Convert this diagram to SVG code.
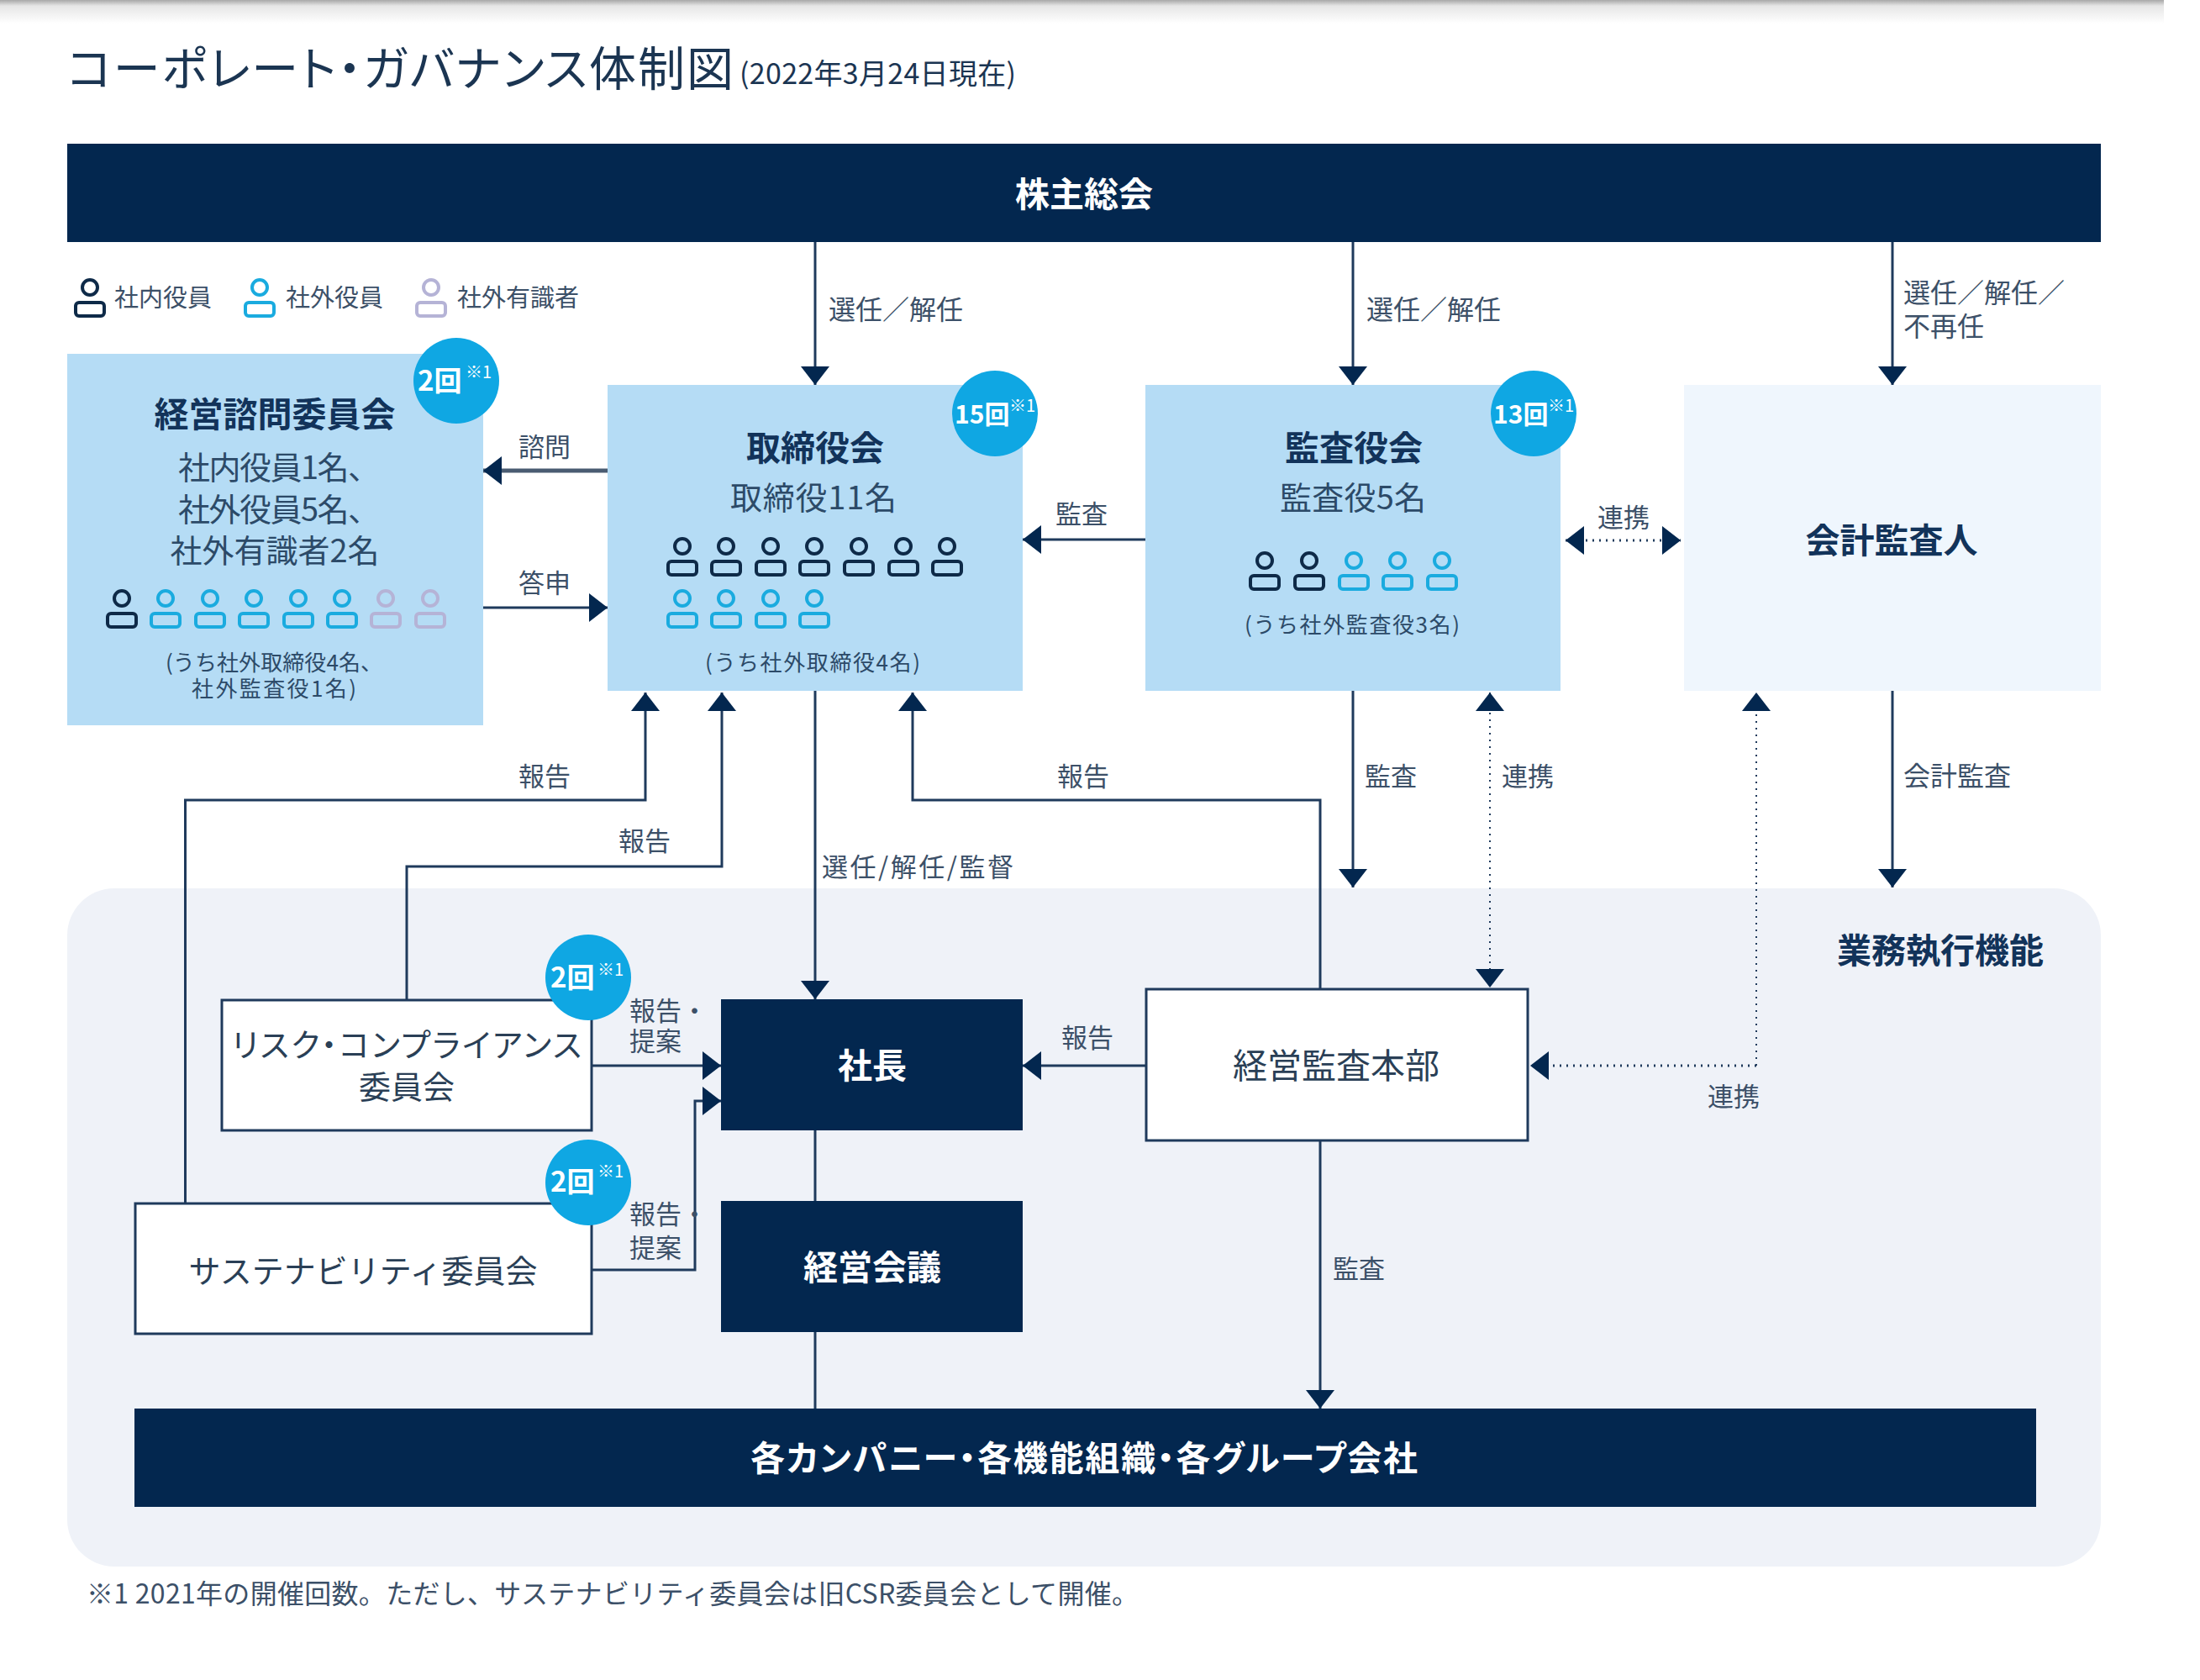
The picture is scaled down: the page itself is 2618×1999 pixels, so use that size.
<svg xmlns="http://www.w3.org/2000/svg" width="2618" height="1999" viewBox="0 0 2618 1999">
<style>
text{font-family:"Noto Sans CJK JP","Noto Sans",sans-serif;dominant-baseline:central;fill:#2c4a68}
.m{text-anchor:middle}
.pa{font-feature-settings:"palt"}
.t{font-size:41px;font-weight:700;fill:#12335a}
.b{font-size:38px;fill:#2c4a68}
.n{font-size:26px}
.l{font-size:31px;fill:#3c5068}
.w{font-size:41px;font-weight:700;fill:#fff}
.k{font-size:38px;fill:#2a3f56}
.c{font-size:33px;font-weight:700;fill:#fff}
.c2{font-size:30px;font-weight:700;fill:#fff}
.s{font-size:20px;fill:#fff}
.navy{fill:#03274f}
.sky{fill:#b5dcf5}
.box{fill:#fff;stroke:#1f3a5c;stroke-width:3}
.bub{fill:#0fa7e3}
.ln{fill:none;stroke:#1f3a5c;stroke-width:3;marker-end:url(#h)}
.pl{fill:none;stroke:#1f3a5c;stroke-width:3}
.dot{fill:none;stroke:#1f3a5c;stroke-width:3;stroke-dasharray:2 6;marker-end:url(#h)}
.both{marker-start:url(#h)}
.i circle,.i rect{fill:none;stroke-width:4}
.ni{stroke:#0e2a48}.ci{stroke:#1aabdf}.vi{stroke:#b5b3d6}
</style>
<defs>
<linearGradient id="sh" x1="0" y1="0" x2="0" y2="1"><stop offset="0" stop-color="#a8a8a8"/><stop offset=".25" stop-color="#e6e6e6"/><stop offset="1" stop-color="#fff"/></linearGradient>
<marker id="h" viewBox="0 0 22 34" markerUnits="userSpaceOnUse" markerWidth="22" markerHeight="34" refX="22" refY="17" orient="auto-start-reverse"><path d="M0 0L22 17L0 34Z" fill="#03274f"/></marker>
<g id="p" class="i"><circle cx="0" cy="0" r="9"/><rect x="-17" y="18" width="34" height="16" rx="4"/></g>
</defs>
<rect x="0" y="0" width="2575" height="28" fill="url(#sh)"/>
<rect id="bg-exec" x="80" y="1057" width="2420" height="807" rx="56" fill="#eff2f8"/>
<g id="title"><text class="pa" x="80" y="77" font-size="56" style="fill:#1b3552" textLength="793" lengthAdjust="spacing">コーポレート・ガバナンス体制図</text><text x="880" y="85" font-size="34" style="fill:#1b3552" textLength="329" lengthAdjust="spacing">(2022年3月24日現在)</text></g>
<g id="legend">
<use href="#p" x="107" y="342" class="ni"/><text class="l" x="136" y="352" style="font-size:29px">社内役員</text>
<use href="#p" x="309" y="342" class="ci"/><text class="l" x="340" y="352" style="font-size:29px">社外役員</text>
<use href="#p" x="513" y="342" class="vi"/><text class="l" x="544" y="352" style="font-size:29px">社外有識者</text>
</g>
<g id="connectors">
<path class="ln" d="M970 288V458"/>
<path class="ln" d="M1610 288V458"/>
<path class="ln" d="M2252 288V458"/>
<path class="ln" d="M723 560H575" style="stroke:#4a5c72;stroke-width:5"/>
<path class="ln" d="M575 723H723"/>
<path class="ln" d="M1363 642H1217"/>
<path class="dot both" d="M1863 643H2000"/>
<path class="ln" d="M220.500 1432V952H768V824"/>
<path class="ln" d="M484 1190V1031H859V824"/>
<path class="ln" d="M1571 1177V952H1086V824"/>
<path class="ln" d="M970 822V1189"/>
<path class="ln" d="M1610 822V1056"/>
<path class="dot both" d="M1773 824V1175" style="stroke-width:2"/>
<path class="dot" d="M2090 1268V824" style="stroke-width:2"/>
<path class="dot" d="M2090 1268H1821"/>
<path class="ln" d="M2252 822V1056"/>
<path class="ln" d="M704 1268H858"/>
<path class="ln" d="M704 1511H827V1310H858"/>
<path class="ln" d="M1364 1268H1217"/>
<path class="pl" d="M970 1345V1429M970 1585V1676"/>
<path class="ln" d="M1571 1357V1676"/>
</g>
<g id="conn-labels">
<text class="l" x="986" y="366" style="font-size:32px">選任／解任</text>
<text class="l" x="1626" y="366" style="font-size:32px">選任／解任</text>
<text class="l" x="2265" y="346" style="font-size:32px">選任／解任／</text>
<text class="l" x="2265" y="386" style="font-size:32px">不再任</text>
<text class="l m" x="648" y="529">諮問</text>
<text class="l m" x="648" y="691">答申</text>
<text class="l m" x="1287" y="609">監査</text>
<text class="l m" x="1932" y="613">連携</text>
<text class="l m" x="648" y="921">報告</text>
<text class="l m" x="767" y="998">報告</text>
<text class="l m" x="1289" y="921">報告</text>
<text class="l" x="978" y="1029" textLength="228" lengthAdjust="spacing">選任/解任/監督</text>
<text class="l" x="1624" y="921">監査</text>
<text class="l" x="1787" y="921">連携</text>
<text class="l" x="2265" y="921" style="font-size:32px">会計監査</text>
<text class="l m" x="2063" y="1302">連携</text>
<text class="l" x="749" y="1200">報告・</text>
<text class="l" x="749" y="1236">提案</text>
<text class="l" x="749" y="1442">報告・</text>
<text class="l" x="749" y="1482">提案</text>
<text class="l m" x="1294" y="1232">報告</text>
<text class="l" x="1586" y="1507">監査</text>
</g>
<g id="shareholders"><rect class="navy" x="80" y="171" width="2420" height="117"/><text class="w m" x="1290" y="228">株主総会</text></g>
<g id="advisory">
<rect class="sky" x="80" y="421" width="495" height="442"/>
<text class="t m" x="327" y="490">経営諮問委員会</text>
<text class="b" x="212" y="553" textLength="240" lengthAdjust="spacing">社内役員1名、</text>
<text class="b" x="212" y="603" textLength="240" lengthAdjust="spacing">社外役員5名、</text>
<text class="b m" x="327" y="652">社外有識者2名</text>
<use href="#p" x="145" y="712" class="ni"/><use href="#p" x="197" y="712" class="ci"/><use href="#p" x="250" y="712" class="ci"/><use href="#p" x="302" y="712" class="ci"/><use href="#p" x="355" y="712" class="ci"/><use href="#p" x="407" y="712" class="ci"/><use href="#p" x="459" y="712" class="vi"/><use href="#p" x="512" y="712" class="vi"/>
<text class="n m" x="326" y="786" textLength="258" lengthAdjust="spacing">(うち社外取締役4名、</text>
<text class="n m" x="326" y="817" textLength="196" lengthAdjust="spacing">社外監査役1名)</text>
<circle class="bub" cx="543" cy="453" r="51"/><text class="c" x="497" y="451">2回</text><text class="s" x="554" y="441">※1</text>
</g>
<g id="board">
<rect class="sky" x="723" y="458" width="494" height="364"/>
<text class="t m" x="970" y="530">取締役会</text>
<text class="b m" x="968" y="589" textLength="198" lengthAdjust="spacing">取締役11名</text>
<use href="#p" x="812" y="650" class="ni"/><use href="#p" x="864" y="650" class="ni"/><use href="#p" x="917" y="650" class="ni"/><use href="#p" x="969" y="650" class="ni"/><use href="#p" x="1022" y="650" class="ni"/><use href="#p" x="1075" y="650" class="ni"/><use href="#p" x="1127" y="650" class="ni"/>
<use href="#p" x="812" y="712" class="ci"/><use href="#p" x="864" y="712" class="ci"/><use href="#p" x="917" y="712" class="ci"/><use href="#p" x="969" y="712" class="ci"/>
<text class="n m" x="967" y="786" textLength="256" lengthAdjust="spacing">(うち社外取締役4名)</text>
<circle class="bub" cx="1184" cy="492" r="51"/><text class="c2" x="1136" y="491">15回</text><text class="s" x="1201" y="481">※1</text>
</g>
<g id="auditors">
<rect class="sky" x="1363" y="458" width="494" height="364"/>
<text class="t m" x="1611" y="530">監査役会</text>
<text class="b m" x="1610" y="589" textLength="174" lengthAdjust="spacing">監査役5名</text>
<use href="#p" x="1505" y="667" class="ni"/><use href="#p" x="1558" y="667" class="ni"/><use href="#p" x="1611" y="667" class="ci"/><use href="#p" x="1663" y="667" class="ci"/><use href="#p" x="1716" y="667" class="ci"/>
<text class="n m" x="1609" y="741" textLength="256" lengthAdjust="spacing">(うち社外監査役3名)</text>
<circle class="bub" cx="1825" cy="492" r="51"/><text class="c2" x="1777" y="491">13回</text><text class="s" x="1842" y="481">※1</text>
</g>
<g id="accountant"><rect x="2004" y="458" width="496" height="364" fill="#eff6fd"/><text class="t m" x="2251" y="640">会計監査人</text></g>
<g id="exec-title"><text class="t" x="2186" y="1128">業務執行機能</text></g>
<g id="risk">
<rect class="box" x="264" y="1190" width="440" height="155"/>
<text class="k m pa" x="484" y="1240" textLength="416" lengthAdjust="spacing">リスク・コンプライアンス</text>
<text class="k m" x="484" y="1290">委員会</text>
<circle class="bub" cx="700" cy="1163" r="51"/><text class="c" x="655" y="1161">2回</text><text class="s" x="711" y="1152">※1</text>
</g>
<g id="sustainability">
<rect class="box" x="161" y="1432" width="543" height="155"/>
<text class="k m" x="432" y="1509">サステナビリティ委員会</text>
<circle class="bub" cx="700" cy="1407" r="51"/><text class="c" x="655" y="1404">2回</text><text class="s" x="711" y="1392">※1</text>
</g>
<g id="president"><rect class="navy" x="858" y="1189" width="359" height="156"/><text class="w m" x="1038" y="1265">社長</text></g>
<g id="mgmt-meeting"><rect class="navy" x="858" y="1429" width="359" height="156"/><text class="w m" x="1038" y="1505">経営会議</text></g>
<g id="audit-hq"><rect class="box" x="1364" y="1177" width="454" height="180"/><text class="k m" x="1590" y="1265" style="font-size:41px">経営監査本部</text></g>
<g id="companies"><rect class="navy" x="160" y="1676" width="2263" height="117"/><text class="w m pa" x="1290" y="1732" textLength="794" lengthAdjust="spacing">各カンパニー・各機能組織・各グループ会社</text></g>
<g id="footnote"><text x="103" y="1894" style="font-size:32px;fill:#3c5068" textLength="1252" lengthAdjust="spacing">※1  2021年の開催回数。ただし、サステナビリティ委員会は旧CSR委員会として開催。</text></g>
</svg>
